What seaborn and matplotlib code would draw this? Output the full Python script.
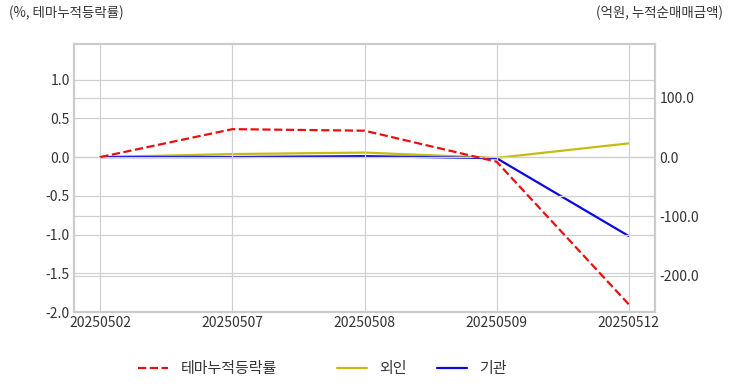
import pandas as pd
import seaborn as sns
import matplotlib.pyplot as plt
import numpy as np

dates = ['20250502', '20250507', '20250508', '20250509', '20250512']
theme_rate = [0.0, 0.36, 0.34, -0.06, -1.90]
foreign = [0.0, 5.0, 7.5, -1.5, 23.0]
institution = [0.0, 0.0, 1.5, -2.0, -133.0]

sns.set_theme(style='whitegrid')
plt.rcParams['font.family'] = ['Noto Sans CJK KR', 'DejaVu Sans']
plt.rcParams['axes.unicode_minus'] = False

df = pd.DataFrame({'date': dates, 'theme': theme_rate,
                   'foreign': foreign, 'inst': institution})

fig, ax1 = plt.subplots(figsize=(7.32, 3.92), dpi=100)
fig.subplots_adjust(left=0.101, right=0.895, top=0.888, bottom=0.204)
ax2 = ax1.twinx()

sns.lineplot(data=df, x='date', y='theme', ax=ax1, color='#e8100f',
             linestyle='--', linewidth=1.6, label='테마누적등락률', legend=False)
sns.lineplot(data=df, x='date', y='foreign', ax=ax2, color='#c4bc11',
             linewidth=1.6, label='외인', legend=False)
sns.lineplot(data=df, x='date', y='inst', ax=ax2, color='#0a0ae0',
             linewidth=1.6, label='기관', legend=False)

ax1.set_xlim(-0.2, 4.2)
ax1.set_ylim(-2.0, 1.46)
ax1.set_yticks([-2.0, -1.5, -1.0, -0.5, 0.0, 0.5, 1.0])
ax1.set_yticklabels([f'{v:.1f}' for v in [-2.0, -1.5, -1.0, -0.5, 0.0, 0.5, 1.0]])
ax2.set_ylim(-261, 190.5)
ax2.set_yticks([-200, -100, 0, 100])
ax2.set_yticklabels([f'{v:.1f}' for v in [-200, -100, 0, 100]])
ax1.set_xlabel('')
ax1.set_ylabel('')
ax2.set_ylabel('')

for ax in (ax1, ax2):
    ax.tick_params(axis='both', labelsize=10, colors='#333333', length=0, pad=3)
    ax.grid(True, color='#d0d0d0', linewidth=0.9)
    for s in ax.spines.values():
        s.set_color('#cccccc')
        s.set_linewidth(1.5)
ax2.grid(axis='x', visible=False)
ax1.set_zorder(ax2.get_zorder() + 1)
ax1.patch.set_visible(False)

fig.text(0.012, 0.955, '(%, 테마누적등락률)', fontsize=9.7, color='#333333')
fig.text(0.988, 0.955, '(억원, 누적순매매금액)', fontsize=9.7, color='#333333', ha='right')

h1, l1 = ax1.get_legend_handles_labels()
h2, l2 = ax2.get_legend_handles_labels()
fig.legend(h1, l1, loc='center', bbox_to_anchor=(0.2835, 0.058), frameon=False,
           fontsize=10.8, handlelength=2.0, labelcolor='#333333')
fig.legend(h2, l2, loc='center', bbox_to_anchor=(0.576, 0.058), frameon=False,
           fontsize=10.8, ncol=2, handlelength=2.0, columnspacing=2.0,
           labelcolor='#333333')

plt.savefig('out.png', dpi=100)
